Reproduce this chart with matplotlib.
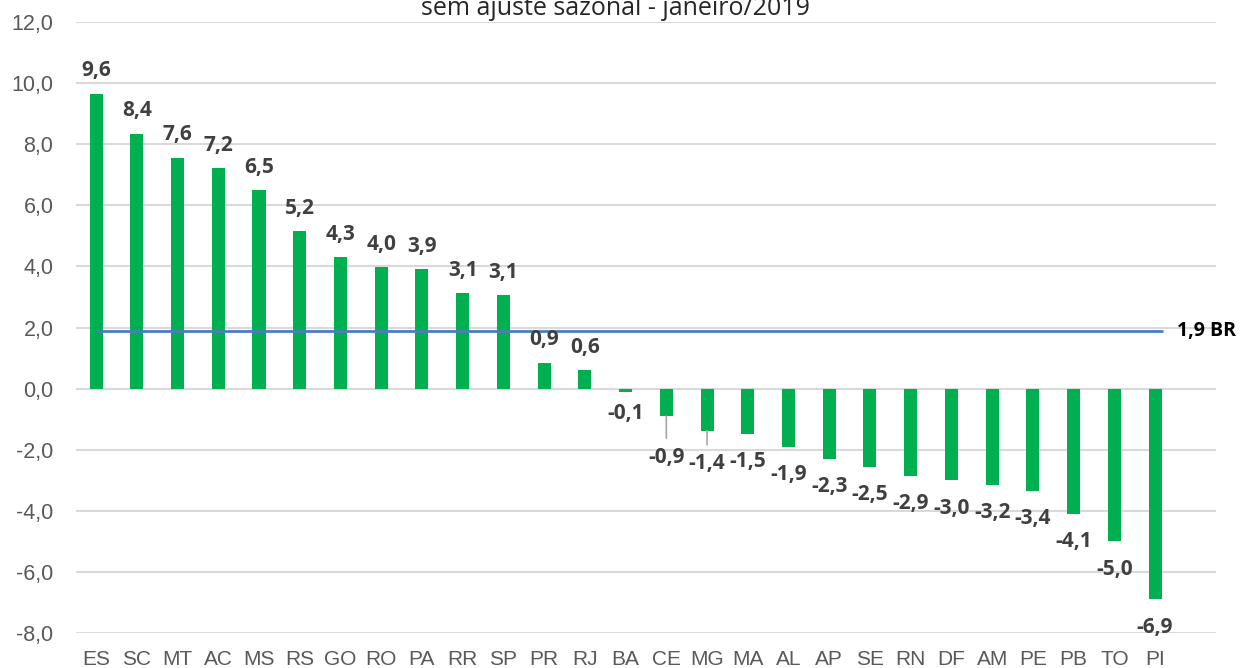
import matplotlib
matplotlib.use("Agg")
import matplotlib.pyplot as plt
import numpy as np

# =========================
# DATA
# =========================
estados = ["ES", "SC", "MT", "AC", "MS", "RS", "GO", "RO", "PA", "RR", "SP", "PR", "RJ", "BA",
           "CE", "MG", "MA", "AL", "AP", "SE", "RN", "DF", "AM", "PE", "PB", "TO", "PI"]
variacao = [9.6, 8.4, 7.6, 7.2, 6.5, 5.2, 4.3, 4.0, 3.9, 3.1, 3.1, 0.9, 0.6, -0.1,
            -0.9, -1.4, -1.5, -1.9, -2.3, -2.5, -2.9, -3.0, -3.2, -3.4, -4.1, -5.0, -6.9]
# bar heights as drawn (label values are rounded)
altura = [9.65, 8.35, 7.55, 7.22, 6.5, 5.15, 4.3, 3.98, 3.9, 3.12, 3.05, 0.85, 0.6, -0.1,
          -0.9, -1.38, -1.48, -1.9, -2.3, -2.55, -2.85, -3.0, -3.15, -3.35, -4.1, -5.0, -6.9]
media_br = 1.9
titulo = "sem ajuste sazonal - janeiro/2019"

VERDE = "#00b050"
AZUL = "#4a7ebb"
CINZA_GRADE = "#d9d9d9"
CINZA_TEXTO = "#595959"
CINZA_ROTULO = "#404040"


def fmt(v):
    return f"{v:.1f}".replace(".", ",")


fig = plt.figure(figsize=(12.41, 6.68), dpi=100)
ax = fig.add_axes([0.061, 0.0524, 0.919, 0.9146])

x = np.arange(len(estados))
ax.bar(x, altura, width=0.32, color=VERDE, zorder=3)

# linha da media Brasil
ax.hlines(media_br, 0, len(estados) - 0.8, color=AZUL, lw=2, zorder=4)
ax.text(len(estados) - 0.45, media_br, fmt(media_br) + " BR", ha="left", va="center",
        fontsize=14, fontweight="bold", family="Open Sans", color="black")

# rotulos de dados (CE e MG foram arrastados para baixo, com linha guia)
arrastados = {"CE": 41, "MG": 33}
for xi, est, v, h in zip(x, estados, variacao, altura):
    if h >= 0:
        off = 23
    else:
        off = -arrastados.get(est, 28)
        if est == "BA":
            off = -22
    ax.annotate(fmt(v), (xi, h), xytext=(0, off), textcoords="offset pixels",
                ha="center", va="center", fontsize=15, fontweight="bold",
                family="Open Sans", color=CINZA_ROTULO, zorder=5)
    if est in arrastados:
        ax.annotate("", (xi, h), xytext=(0, off + 19), textcoords="offset pixels",
                    arrowprops=dict(arrowstyle="-", color="#a6a6a6", lw=1.2,
                                    shrinkA=0, shrinkB=0))

ax.set_xlim(-0.5, len(estados) + 0.5)
ax.set_ylim(-8, 12)
ax.set_yticks(np.arange(-8, 13, 2))
ax.set_yticklabels([fmt(t) for t in np.arange(-8, 13, 2)])
ax.set_xticks(x)
ax.set_xticklabels(estados)
ax.tick_params(axis="both", length=0, labelcolor=CINZA_TEXTO)
ax.tick_params(axis="x", pad=12, labelsize=15)
ax.tick_params(axis="y", pad=16, labelsize=15.5)
for lab in ax.get_xticklabels() + ax.get_yticklabels():
    lab.set_family("Liberation Sans")

ax.grid(axis="y", color=CINZA_GRADE, lw=1.5, zorder=0)
ax.set_axisbelow(True)
for s in ax.spines.values():
    s.set_visible(False)

# titulo aparece cortado no topo, como na imagem original
fig.text(0.496, 1 - 15 / 668, titulo, ha="center", va="baseline", fontsize=18,
         family="Open Sans", color="#262626")

fig.savefig("out.png", dpi=100)
